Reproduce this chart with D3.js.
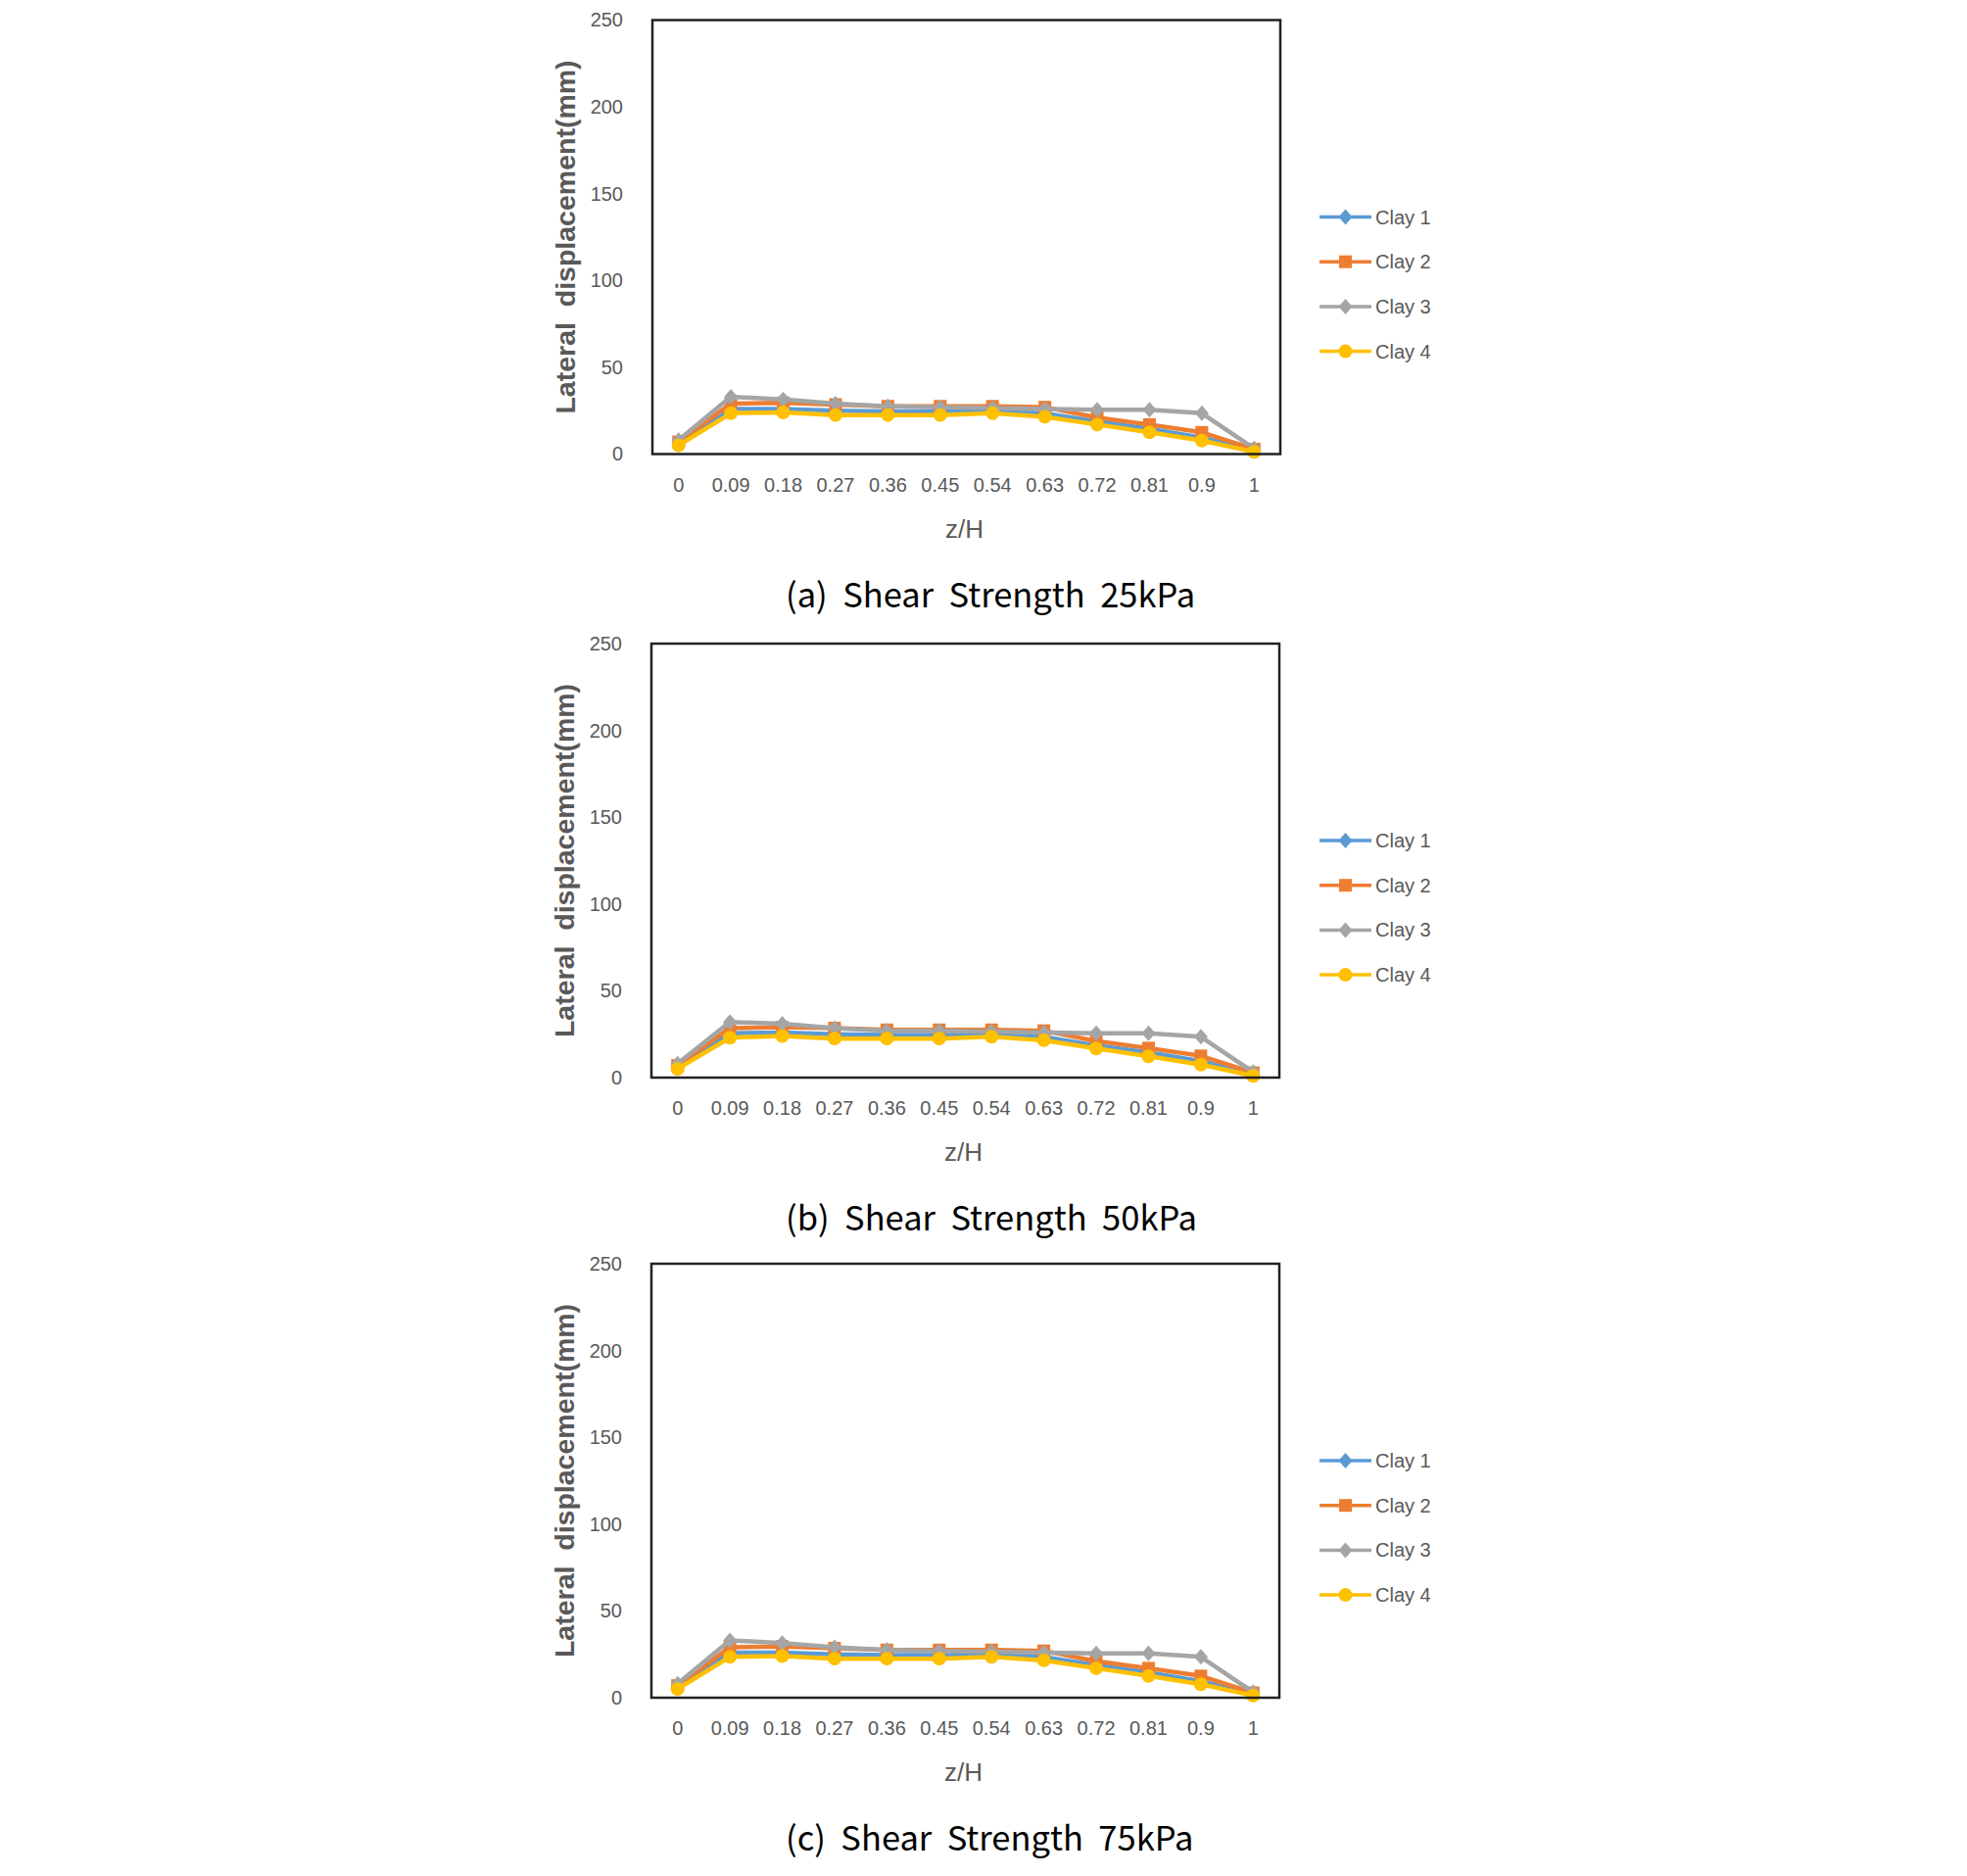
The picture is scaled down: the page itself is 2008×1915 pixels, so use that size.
<!DOCTYPE html>
<html><head><meta charset="utf-8">
<script src="https://cdn.jsdelivr.net/npm/d3@7"></script>
<style>html,body{margin:0;padding:0;background:#fff;}</style>
</head><body>
<svg id="chart" width="2008" height="1915"></svg>
<script>
const categories = ["0","0.09","0.18","0.27","0.36","0.45","0.54","0.63","0.72","0.81","0.9","1"];
const seriesNames = ["Clay 1","Clay 2","Clay 3","Clay 4"];
const seriesColors = ["#5B9BD5","#ED7D31","#A5A5A5","#FFC000"];
const seriesMarkers = ["diamond","square","diamond","circle"];
const yTicks = [0,50,100,150,200,250];
const captions = ["(a)  Shear  Strength  25kPa","(b)  Shear  Strength  50kPa","(c)  Shear  Strength  75kPa"];

// panel (a) 25kPa
const clay1_a = [6, 26, 26, 25, 24.5, 24.5, 24.5, 23.5, 18.8, 14.5, 9.5, 1.9];
const clay2_a = [7, 29, 29.5, 28.5, 27.5, 27.5, 27.5, 27, 21, 17, 12.5, 2.8];
const clay3_a = [8, 33, 31.5, 29, 27.5, 27, 26.5, 26, 25.5, 25.5, 23.5, 3.2];
const clay4_a = [5, 23.5, 24, 22.5, 22.5, 22.5, 23.5, 21.5, 17, 12.5, 7.8, 1.2];
// panel (b) 50kPa
const clay1_b = [6, 25.5, 26, 25, 24.5, 24.5, 24.5, 23.5, 18.5, 14.5, 9.5, 1.8];
const clay2_b = [7, 28.5, 29, 28.5, 27.5, 27.5, 27.5, 27, 21, 17, 12.5, 2.8];
const clay3_b = [8, 32, 31, 28.5, 27, 27, 26.5, 26, 25.5, 25.5, 23.5, 3.2];
const clay4_b = [5, 23, 24, 22.5, 22.5, 22.5, 23.5, 21.5, 16.8, 12.3, 7.5, 1.0];
// panel (c) 75kPa
const clay1_c = [6, 26, 26, 25, 24.5, 24.5, 24.5, 23.5, 18.8, 14.5, 9.5, 1.9];
const clay2_c = [7, 29, 29.5, 28.5, 27.5, 27.5, 27.5, 27, 21, 17, 12.5, 2.8];
const clay3_c = [8, 33, 31.5, 29, 27.5, 27, 26.5, 26, 25.5, 25.5, 23.5, 3.2];
const clay4_c = [5, 23.5, 24, 22.5, 22.5, 22.5, 23.5, 21.5, 17, 12.5, 7.8, 1.2];

const panelData = [
  [clay1_a, clay2_a, clay3_a, clay4_a],
  [clay1_b, clay2_b, clay3_b, clay4_b],
  [clay1_c, clay2_c, clay3_c, clay4_c]
];

const svg = d3.select("#chart");
const panelTops = [20.5, 657, 1290];
const panelLefts = [666, 665, 665];
const W = 641, H = 443;
const tickColor = "#595959";
const font = "'Liberation Sans', Arial, sans-serif";

function marker(g, type, color, x, y) {
  if (type === "circle") {
    g.append("circle").attr("cx", x).attr("cy", y).attr("r", 7).attr("fill", color);
  } else if (type === "square") {
    g.append("rect").attr("x", x - 6.5).attr("y", y - 6.5).attr("width", 13).attr("height", 13).attr("fill", color);
  } else {
    g.append("path").attr("d", `M${x},${y-8}L${x+7},${y}L${x},${y+8}L${x-7},${y}Z`).attr("fill", color);
  }
}

panelData.forEach((series, pi) => {
  const g = svg.append("g").attr("transform", `translate(${panelLefts[pi]},${panelTops[pi]})`);
  const x = d3.scaleBand().domain(categories).range([0, W]);
  const y = d3.scaleLinear().domain([0, 250]).range([H, 0]);

  // y tick labels
  const yAxis = d3.axisLeft(y).tickValues(yTicks).tickSize(0).tickPadding(30);
  const ya = g.append("g").call(yAxis);
  ya.select(".domain").remove();
  ya.selectAll("text").attr("font-family", font).attr("font-size", 20).attr("fill", tickColor);

  // x tick labels
  const xAxis = d3.axisBottom(x).tickSize(0).tickPadding(24);
  const xa = g.append("g").attr("transform", `translate(0,${H})`).call(xAxis);
  xa.select(".domain").remove();
  xa.selectAll("text").attr("font-family", font).attr("font-size", 20).attr("fill", tickColor);

  // series
  series.forEach((vals, si) => {
    const line = d3.line().x((d, i) => x(categories[i]) + x.bandwidth() / 2).y(d => y(d));
    const sg = g.append("g");
    sg.append("path").datum(vals).attr("d", line).attr("fill", "none")
      .attr("stroke", seriesColors[si]).attr("stroke-width", 4.5).attr("stroke-linejoin", "round");
    vals.forEach((v, i) => marker(sg, seriesMarkers[si], seriesColors[si], x(categories[i]) + x.bandwidth() / 2, y(v)));
  });

  // plot border
  g.append("rect").attr("x", 0).attr("y", 0).attr("width", W).attr("height", H)
    .attr("fill", "none").attr("stroke", "#222").attr("stroke-width", 2.5);

  // y title
  g.append("text").attr("transform", `translate(${-89},${H/2}) rotate(-90)`)
    .attr("text-anchor", "middle").attr("dominant-baseline", "central")
    .attr("font-family", font).attr("font-weight", "bold").attr("font-size", 28.5)
    .attr("fill", tickColor).style("white-space", "pre")
    .text("Lateral  displacement(mm)");

  // x title
  g.append("text").attr("x", W / 2 - 2).attr("y", H + 76).attr("text-anchor", "middle")
    .attr("dominant-baseline", "central").attr("font-family", font).attr("font-size", 26)
    .attr("fill", tickColor).text("z/H");

  // caption
  g.append("text").attr("x", 802 - panelLefts[pi]).attr("y", H + 141).attr("dominant-baseline", "central")
    .attr("font-family", "'Noto Sans CJK KR', 'Noto Sans', sans-serif").attr("font-size", 34.5)
    .attr("fill", "#000").style("white-space", "pre").text(captions[pi]);

  // legend
  const lg = g.append("g").attr("transform", `translate(${1347 - panelLefts[pi]},201)`);
  seriesNames.forEach((name, si) => {
    const yy = si * 45.7;
    lg.append("line").attr("x1", 0).attr("x2", 53).attr("y1", yy).attr("y2", yy)
      .attr("stroke", seriesColors[si]).attr("stroke-width", 3.5);
    marker(lg, seriesMarkers[si], seriesColors[si], 26.5, yy);
    lg.append("text").attr("x", 57).attr("y", yy).attr("dominant-baseline", "central")
      .attr("font-family", font).attr("font-size", 20).attr("fill", tickColor).text(name);
  });
});
</script>
</body></html>
